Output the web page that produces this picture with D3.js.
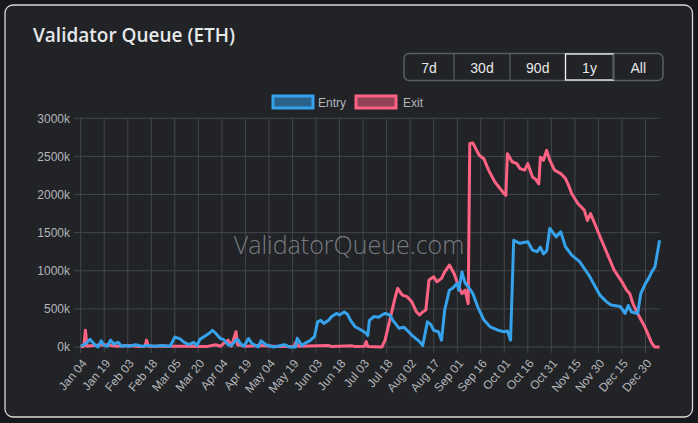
<!DOCTYPE html>
<html>
<head>
<meta charset="utf-8">
<script src="https://cdn.jsdelivr.net/npm/d3@7"></script>
<style>
  html, body { margin: 0; padding: 0; background: #17181b; }
  svg { display: block; }
</style>
</head>
<body>
<svg id="chart" width="698" height="423"></svg>
<script>
// ---- data (values in thousands of ETH) ----
const entryDates = ["2025-01-04","2025-01-07","2025-01-10","2025-01-13","2025-01-15","2025-01-17","2025-01-19","2025-01-21","2025-01-23","2025-01-25","2025-01-28","2025-01-30","2025-02-02","2025-02-04","2025-02-08","2025-02-12","2025-02-16","2025-02-20","2025-02-25","2025-03-02","2025-03-05","2025-03-08","2025-03-11","2025-03-14","2025-03-17","2025-03-19","2025-03-21","2025-03-24","2025-03-27","2025-03-29","2025-03-31","2025-04-03","2025-04-05","2025-04-08","2025-04-10","2025-04-13","2025-04-14","2025-04-16","2025-04-18","2025-04-21","2025-04-23","2025-04-27","2025-04-29","2025-05-02","2025-05-07","2025-05-14","2025-05-17","2025-05-21","2025-05-22","2025-05-25","2025-05-27","2025-05-30","2025-06-02","2025-06-04","2025-06-06","2025-06-08","2025-06-11","2025-06-13","2025-06-16","2025-06-18","2025-06-21","2025-06-23","2025-06-25","2025-06-28","2025-07-02","2025-07-05","2025-07-06","2025-07-07","2025-07-10","2025-07-13","2025-07-15","2025-07-17","2025-07-20","2025-07-22","2025-07-26","2025-07-29","2025-08-01","2025-08-03","2025-08-08","2025-08-10","2025-08-13","2025-08-15","2025-08-17","2025-08-20","2025-08-22","2025-08-24","2025-08-27","2025-08-29","2025-09-01","2025-09-02","2025-09-04","2025-09-06","2025-09-08","2025-09-11","2025-09-14","2025-09-18","2025-09-22","2025-09-27","2025-10-01","2025-10-03","2025-10-05","2025-10-07","2025-10-11","2025-10-16","2025-10-19","2025-10-22","2025-10-24","2025-10-26","2025-10-28","2025-10-30","2025-11-03","2025-11-06","2025-11-09","2025-11-13","2025-11-18","2025-11-22","2025-11-24","2025-11-28","2025-12-01","2025-12-05","2025-12-08","2025-12-14","2025-12-17","2025-12-19","2025-12-21","2025-12-25","2025-12-27","2025-12-30","2026-01-01","2026-01-03","2026-01-05","2026-01-08"];
const entryValues = [10,40,100,30,0,80,20,10,90,40,60,10,20,10,30,10,20,10,20,10,130,110,60,30,60,20,100,140,180,220,180,110,100,30,20,90,100,40,10,110,50,0,80,30,0,30,0,0,115,20,50,80,135,330,350,310,350,400,440,420,460,430,350,265,220,180,150,350,400,390,420,440,420,350,245,260,200,157,70,20,330,300,220,200,90,485,745,770,835,745,985,840,790,700,530,355,265,220,200,210,90,1400,1360,1380,1270,1250,1310,1220,1260,1555,1445,1510,1315,1205,1120,1000,940,790,680,595,550,530,440,545,460,440,700,835,900,985,1050,1400];

const exitDates = ["2025-01-04","2025-01-06","2025-01-07","2025-01-08","2025-01-12","2025-01-20","2025-01-27","2025-02-04","2025-02-10","2025-02-14","2025-02-15","2025-02-16","2025-02-25","2025-03-10","2025-03-25","2025-03-31","2025-04-03","2025-04-06","2025-04-08","2025-04-10","2025-04-13","2025-04-14","2025-04-20","2025-04-28","2025-05-10","2025-05-20","2025-05-21","2025-05-23","2025-06-11","2025-06-13","2025-06-26","2025-06-28","2025-07-04","2025-07-05","2025-07-06","2025-07-15","2025-07-17","2025-07-20","2025-07-23","2025-07-25","2025-07-28","2025-07-31","2025-08-03","2025-08-06","2025-08-08","2025-08-10","2025-08-12","2025-08-14","2025-08-17","2025-08-19","2025-08-22","2025-08-24","2025-08-27","2025-08-30","2025-09-02","2025-09-04","2025-09-06","2025-09-08","2025-09-09","2025-09-11","2025-09-15","2025-09-18","2025-09-21","2025-09-25","2025-09-30","2025-10-02","2025-10-03","2025-10-06","2025-10-09","2025-10-11","2025-10-14","2025-10-16","2025-10-19","2025-10-21","2025-10-23","2025-10-24","2025-10-26","2025-10-28","2025-10-30","2025-11-02","2025-11-06","2025-11-09","2025-11-11","2025-11-13","2025-11-17","2025-11-21","2025-11-23","2025-11-25","2025-11-28","2025-12-02","2025-12-06","2025-12-10","2025-12-15","2025-12-18","2025-12-20","2025-12-22","2025-12-25","2025-12-30","2026-01-03","2026-01-05","2026-01-08"];
const exitValues = [0,10,220,10,20,30,10,20,5,10,90,10,10,10,5,30,10,60,90,10,200,30,10,20,5,10,60,10,20,5,15,5,10,70,5,0,90,350,615,770,680,660,595,460,420,460,485,880,920,855,900,985,1075,965,790,700,745,570,2670,2675,2515,2470,2320,2165,2035,1990,2535,2430,2405,2340,2320,2405,2230,2200,2140,2490,2450,2580,2450,2320,2275,2210,2120,2010,1880,1795,1660,1750,1600,1400,1205,1010,855,745,700,570,440,245,50,0,0];

const yTicks = [0,500,1000,1500,2000,2500,3000];
const xTickDates = ["2025-01-04","2025-01-19","2025-02-03","2025-02-18","2025-03-05","2025-03-20","2025-04-04","2025-04-19","2025-05-04","2025-05-19","2025-06-03","2025-06-18","2025-07-03","2025-07-18","2025-08-02","2025-08-17","2025-09-01","2025-09-16","2025-10-01","2025-10-16","2025-10-31","2025-11-15","2025-11-30","2025-12-15","2025-12-30"];
const ranges = ["7d","30d","90d","1y","All"];
const activeRange = "1y";
const seriesNames = ["Entry","Exit"];
const seriesColors = ["#36a2eb","#ff6384"];

// ---- drawing ----
const parse = d3.timeParse("%Y-%m-%d");
const svg = d3.select("#chart");

// card
svg.append("rect").attr("x",5).attr("y",5).attr("width",687.5).attr("height",412)
  .attr("rx",8).attr("fill","#212327").attr("stroke","#d8d8d8").attr("stroke-width",1.3);

// title
svg.append("text").attr("x",33).attr("y",42)
  .attr("font-family","'Open Sans', sans-serif").attr("font-weight",600).attr("font-size",19)
  .attr("fill","#e6e8ea").text("Validator Queue (ETH)");

// range buttons
const btnEdges = [404,454,510,565.5,613.5,663];
const bg = svg.append("g");
bg.append("rect").attr("x",btnEdges[0]).attr("y",53.5).attr("width",btnEdges[5]-btnEdges[0]).attr("height",27)
  .attr("rx",5).attr("fill","none").attr("stroke","#5a5d63").attr("stroke-width",1.5);
ranges.forEach((r,i)=>{
  const x0 = btnEdges[i], x1 = btnEdges[i+1];
  if (i>0) bg.append("line").attr("x1",x0).attr("x2",x0).attr("y1",54).attr("y2",80).attr("stroke","#5a5d63").attr("stroke-width",1.2);
  if (r===activeRange) bg.append("rect").attr("x",x0).attr("y",54).attr("width",x1-x0).attr("height",26)
      .attr("fill","none").attr("stroke","#f2f2f2").attr("stroke-width",1.3);
  bg.append("text").attr("x",(x0+x1)/2).attr("y",72.5).attr("text-anchor","middle")
    .attr("font-family","'Liberation Sans', Arial, sans-serif").attr("font-size",14)
    .attr("fill","#e8e8e8").text(r);
});

// scales
const x = d3.scaleTime().domain([parse("2025-01-04"), parse("2026-01-08")]).range([80.7, 659.6]);
const y = d3.scaleLinear().domain([0,3000]).range([347,118.3]);

// grid
const grid = svg.append("g");
yTicks.forEach(t=>{
  grid.append("line").attr("x1",74).attr("x2",659.6).attr("y1",y(t)).attr("y2",y(t))
    .attr("stroke","#43464c").attr("stroke-width",1);
});
xTickDates.forEach(s=>{
  const xx = x(parse(s));
  grid.append("line").attr("x1",xx).attr("x2",xx).attr("y1",118.3).attr("y2",353)
    .attr("stroke","#43464c").attr("stroke-width",1);
});

// y axis labels
const yAxis = d3.axisLeft(y).tickValues(yTicks).tickSize(0).tickPadding(0).tickFormat(d=>d+"k");
const yg = svg.append("g").attr("transform","translate(70,0)").call(yAxis);
yg.select(".domain").remove();
yg.selectAll("text").attr("font-family","'Liberation Sans', Arial, sans-serif").attr("font-size",12).attr("fill","#b4b6ba");

// x axis labels
const fmt = d3.timeFormat("%b %d");
const xAxis = d3.axisBottom(x).tickValues(xTickDates.map(parse)).tickSize(0).tickFormat(fmt);
const xg = svg.append("g").attr("transform","translate(0,356)").call(xAxis);
xg.select(".domain").remove();
xg.selectAll("text")
  .attr("font-family","'Liberation Sans', Arial, sans-serif").attr("font-size",12).attr("fill","#b4b6ba")
  .attr("text-anchor","end").attr("dy","0.35em").attr("y",0).attr("x",0)
  .attr("transform","translate(3,5) rotate(-50)");

// watermark
svg.append("text").attr("x",349).attr("y",254).attr("text-anchor","middle")
  .attr("font-family","'Open Sans', sans-serif").attr("font-weight",300).attr("font-size",25)
  .attr("fill","#8c8f95").attr("fill-opacity",0.8).text("ValidatorQueue.com");

// lines
const line = d3.line().x(d=>x(d.date)).y(d=>y(d.value));
const exitData = exitDates.map((d,i)=>({date:parse(d), value:exitValues[i]}));
const entryData = entryDates.map((d,i)=>({date:parse(d), value:entryValues[i]}));
svg.append("path").datum(exitData).attr("d",line).attr("fill","none")
  .attr("stroke",seriesColors[1]).attr("stroke-width",3).attr("stroke-linejoin","round");
svg.append("path").datum(entryData).attr("d",line).attr("fill","none")
  .attr("stroke",seriesColors[0]).attr("stroke-width",3).attr("stroke-linejoin","round");

// legend
const legendItems = [{x:273, tx:318}, {x:356, tx:403}];
seriesNames.forEach((n,i)=>{
  const c = seriesColors[i];
  svg.append("rect").attr("x",legendItems[i].x).attr("y",96).attr("width",40).attr("height",12)
    .attr("fill",c).attr("fill-opacity",0.5).attr("stroke",c).attr("stroke-width",3);
  svg.append("text").attr("x",legendItems[i].tx).attr("y",106.5)
    .attr("font-family","'Liberation Sans', Arial, sans-serif").attr("font-size",12)
    .attr("fill","#b4b6ba").text(n);
});
</script>
</body>
</html>
